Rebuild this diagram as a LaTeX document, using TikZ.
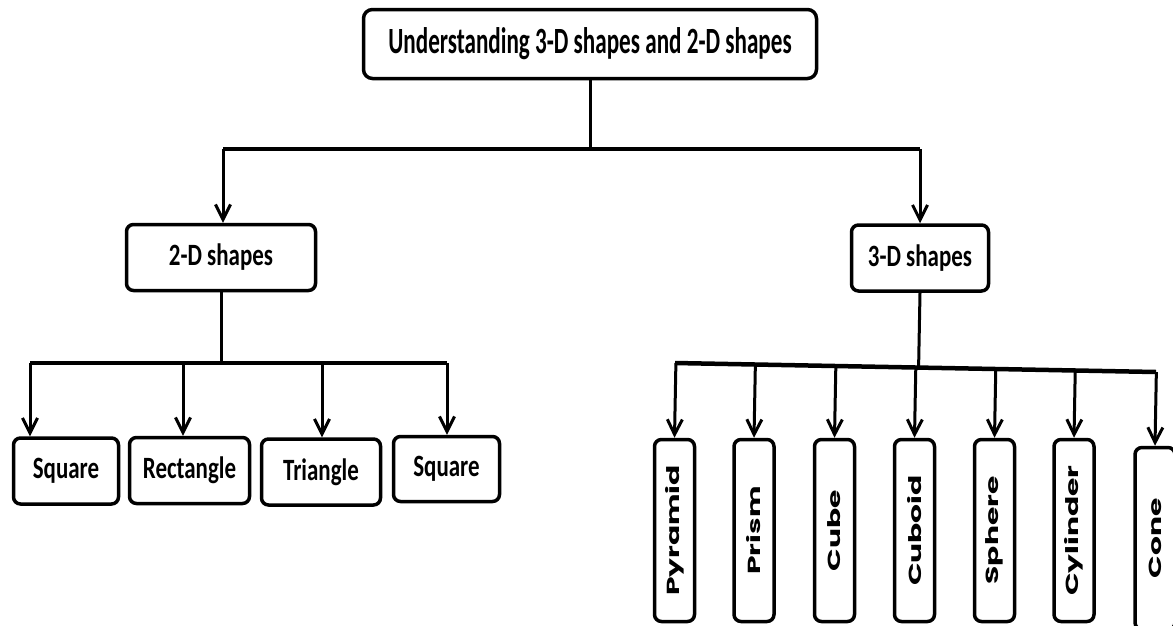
\documentclass[tikz,border=0pt]{standalone}
\usepackage{fontspec}
\setmainfont{Carlito}
\newfontfamily\geofont{Poppins}
\usetikzlibrary{arrows.meta,calc}
\begin{document}
\begin{tikzpicture}[x=1pt,y=-1pt,
  box/.style={draw, line width=3.5pt, rounded corners=7pt, fill=white,
    inner sep=0pt, align=center},
  topbox/.style={box, rounded corners=9pt, minimum width=453pt, minimum height=69pt,
    font=\fontsize{37}{42}\selectfont\bfseries},
  midbox/.style={box, minimum height=66pt,
    font=\fontsize{31}{35}\selectfont\bfseries},
  leafbox/.style={box, minimum height=66pt,
    font=\fontsize{31}{35}\selectfont\bfseries},
  vbox/.style={box, minimum width=40pt, minimum height=182pt,
    font=\geofont\fontsize{17.5}{19}\selectfont\bfseries},
  conn/.style={line width=3pt},
  bus/.style={line width=4.5pt},
  arrowline/.style={line width=3pt, -{Straight Barb[length=15pt,width=15pt]}},
]
\useasboundingbox (0,0) rectangle (1173,625);
\clip (0,0) rectangle (1173,625);
\fill[white] (0,0) rectangle (1173,625);

% root and the two main groups
\node[topbox] (top) at (590,44) {\scalebox{0.625}[1]{Understanding 3-D shapes and 2-D shapes}};
\node[midbox, minimum width=189pt] (two) at (221,257.5) {\scalebox{0.74}[1]{2-D shapes}};
\node[midbox, minimum width=137pt] (three) at (920,258) {\scalebox{0.74}[1]{3-D shapes}};

% 2-D shapes
\node[leafbox, minimum width=105pt] (sqA) at (66,471) {\scalebox{0.74}[1]{Square}};
\node[leafbox, minimum width=120pt] (rect) at (189.5,470.5) {\scalebox{0.74}[1]{Rectangle}};
\node[leafbox, minimum width=119pt] (tri) at (321,472) {\scalebox{0.74}[1]{Triangle}};
\node[leafbox, minimum width=106pt, minimum height=65pt] (sqB) at (446.5,469) {\scalebox{0.74}[1]{Square}};

% 3-D shapes
\foreach \nm/\x/\y/\txt in {pyr/674.5/530.5/Pyramid, prism/754/530.5/Prism,
    cube/834.5/530.5/Cube, cuboid/914.5/530.5/Cuboid, sphere/994.5/530.5/Sphere,
    cyl/1074/530.5/Cylinder, cone/1155/538.5/Cone}
  \node[vbox] (\nm) at (\x,\y) {\rotatebox{90}{\scalebox{1.7}[1]{\txt}}};

% split below the root
\coordinate (split) at (590,149);
\coordinate (splitL) at (223,149);
\coordinate (splitR) at (920,149);
\draw[conn] (top.south) -- (split);
\draw[bus] (splitL) -- (splitR);
\draw[arrowline] (splitL) -- (splitL |- two.north);
\draw[arrowline] (splitR) -- (splitR |- three.north);

% 2-D branch
\coordinate (busA) at (30,363);
\coordinate (busB) at (447,363);
\coordinate (dRect) at (183,363);
\coordinate (dTri) at (322,363);
\draw[conn] (two.south) -- (two.south |- busA);
\draw[bus] (busA) -- (busB);
\draw[arrowline] (busA) -- (busA |- sqA.north);
\draw[arrowline] (dRect) -- (dRect |- rect.north);
\draw[arrowline] (dTri) -- (dTri |- tri.north);
\draw[arrowline] (busB) -- (busB |- sqB.north);

% 3-D branch
\coordinate (busC) at (675,363);
\coordinate (busD) at (1156,372);
\draw[conn] (three.south) -- ($(busC)!(three.south)!(busD)$);
\draw[bus] (busC) -- (busD);
\foreach \nm in {pyr, prism, cube, cuboid, sphere, cyl, cone}
  \draw[arrowline] ($(busC)!(\nm.north)!(busD)$) -- (\nm.north);
\end{tikzpicture}
\end{document}
